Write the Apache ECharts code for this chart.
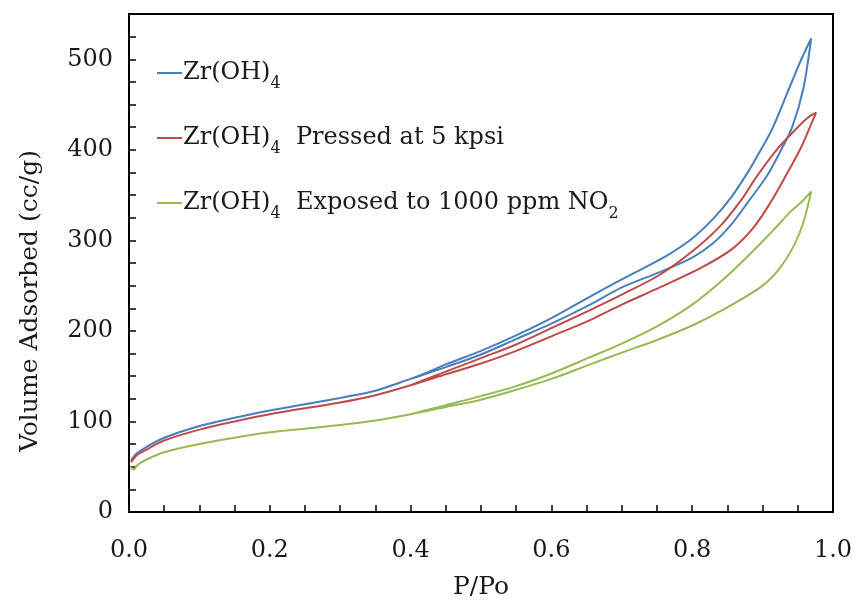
<!DOCTYPE html>
<html>
<head>
<meta charset="utf-8">
<script src="https://cdn.jsdelivr.net/npm/echarts@6/dist/echarts.min.js"></script>
<style>html,body{margin:0;padding:0;background:#fff}#c{width:858px;height:606px}</style>
</head>
<body>
<div id="c"></div>
<script>
// P/Po, Volume adsorbed (cc/g) — each loop: adsorption branch up, desorption branch back
var seriesNames = ['Zr(OH)4', 'Zr(OH)4 Pressed at 5 kpsi', 'Zr(OH)4 Exposed to 1000 ppm NO2'];

var zrAds = [[0.003,57],[0.01,64],[0.025,72],[0.05,82],[0.1,95],[0.15,104],[0.2,112],[0.3,126],[0.35,134],[0.4,147],[0.45,160],[0.5,174],[0.55,191],[0.6,208],[0.655,229],[0.7,248],[0.754,265],[0.8,281],[0.83,297],[0.855,317],[0.879,342],[0.906,371],[0.925,398],[0.942,425],[0.958,468],[0.969,523]];
var zrDes = [[0.955,500],[0.942,476],[0.913,422],[0.893,394],[0.878,374],[0.854,346],[0.83,324],[0.8,302],[0.77,286],[0.74,273],[0.7,257],[0.655,238],[0.6,214],[0.55,195],[0.5,178],[0.45,163],[0.42,153],[0.4,147]];

var prAds = [[0.003,55],[0.01,62],[0.025,69],[0.05,79],[0.1,91],[0.15,100],[0.2,108],[0.3,121],[0.35,129],[0.4,140],[0.45,152],[0.5,164],[0.55,178],[0.6,194],[0.655,212],[0.7,229],[0.754,248],[0.811,269],[0.856,290],[0.887,314],[0.913,344],[0.932,370],[0.953,400],[0.965,421],[0.976,441]];
var prDes = [[0.965,436],[0.95,425],[0.92,400],[0.892,371],[0.87,345],[0.84,316],[0.802,289],[0.754,262],[0.7,240],[0.655,223],[0.6,203],[0.55,185],[0.5,170],[0.45,155],[0.42,146],[0.4,140]];

var no2Ads = [[0.002,50],[0.007,47],[0.012,52],[0.025,58],[0.05,66],[0.1,75],[0.15,82],[0.2,88],[0.3,96],[0.35,101],[0.4,108],[0.45,116],[0.5,124],[0.55,135],[0.6,147],[0.655,163],[0.7,176],[0.75,190],[0.8,206],[0.85,226],[0.9,250],[0.925,270],[0.945,295],[0.958,320],[0.969,354]];
var no2Des = [[0.955,342],[0.94,332],[0.915,311],[0.89,291],[0.865,272],[0.84,254],[0.8,229],[0.75,205],[0.7,186],[0.655,171],[0.6,153],[0.55,139],[0.5,128],[0.45,118],[0.42,112],[0.4,108]];

var xTickLabels = ['0.0','0.2','0.4','0.6','0.8','1.0'];
var yTickLabels = ['0','100','200','300','400','500'];

var colors = ['#4a7ebb', '#be4b48', '#98b954'];
var FONT = 'DejaVu Serif';
var TXT = '#1a1a1a';

function legendFmt(name) {
  if (name === seriesNames[0]) return '{t|Zr(OH)}{s|4}';
  if (name === seriesNames[1]) return '{t|Zr(OH)}{s|4}{t|  Pressed at 5 kpsi}';
  return '{t|Zr(OH)}{s|4}{t|  Exposed to 1000 ppm NO}{s|2}';
}

var chart = echarts.init(document.getElementById('c'));
chart.setOption({
  backgroundColor: '#fff',
  animation: false,
  color: colors,
  grid: { left: 129, right: 25, top: 14, bottom: 94, show: true, borderColor: '#000', borderWidth: 2, backgroundColor: 'transparent' },
  legend: {
    orient: 'vertical', left: 152, top: 49, itemGap: 27, itemWidth: 25, itemHeight: 2,
    icon: 'rect',
    data: seriesNames.map(function (n, i) { return { name: n, itemStyle: { color: colors[i] } }; }),
    formatter: legendFmt,
    textStyle: {
      fontFamily: FONT, color: TXT, padding: [0,0,0,-4],
      rich: {
        t: { fontFamily: FONT, fontSize: 24, color: TXT, lineHeight: 34 },
        s: { fontFamily: FONT, fontSize: 16, color: TXT, padding: [22, 0, 0, 0], lineHeight: 34 }
      }
    }
  },
  xAxis: {
    type: 'value', min: 0, max: 1, interval: 0.05,
    name: 'P/Po', nameLocation: 'middle', nameGap: 63,
    nameTextStyle: { fontFamily: FONT, fontSize: 25, color: TXT },
    axisLine: { show: true, lineStyle: { color: '#000', width: 2 } },
    axisTick: { show: true, inside: true, length: 7, lineStyle: { color: '#000', width: 1.5 } },
    splitLine: { show: false },
    axisLabel: {
      margin: 27, fontFamily: FONT, fontSize: 24, color: TXT,
      formatter: function (v) {
        var k = Math.round(v * 20);
        if (k % 4 !== 0) return '';
        return xTickLabels[k / 4];
      }
    }
  },
  yAxis: {
    type: 'value', min: 0, max: 550, interval: 25,
    name: 'Volume Adsorbed (cc/g)', nameLocation: 'middle', nameGap: 86, nameRotate: 90,
    nameTextStyle: { fontFamily: FONT, fontSize: 25, color: TXT, padding: [0, 76, 0, 0] },
    axisLine: { show: true, lineStyle: { color: '#000', width: 2 } },
    axisTick: { show: true, inside: true, length: 7, lineStyle: { color: '#000', width: 1.5 } },
    splitLine: { show: false },
    axisLabel: {
      margin: 16, fontFamily: FONT, fontSize: 24, color: TXT,
      formatter: function (v) {
        if (v % 100 !== 0) return '';
        return yTickLabels[v / 100] || '';
      }
    }
  },
  series: [
    { name: seriesNames[0], type: 'line', data: zrAds.concat(zrDes), showSymbol: false, symbol: 'none', smooth: 0.3, lineStyle: { width: 2, color: colors[0] } },
    { name: seriesNames[1], type: 'line', data: prAds.concat(prDes), showSymbol: false, symbol: 'none', smooth: 0.3, lineStyle: { width: 2, color: colors[1] } },
    { name: seriesNames[2], type: 'line', data: no2Ads.concat(no2Des), showSymbol: false, symbol: 'none', smooth: 0.3, lineStyle: { width: 2, color: colors[2] } }
  ]
});
</script>
</body>
</html>
